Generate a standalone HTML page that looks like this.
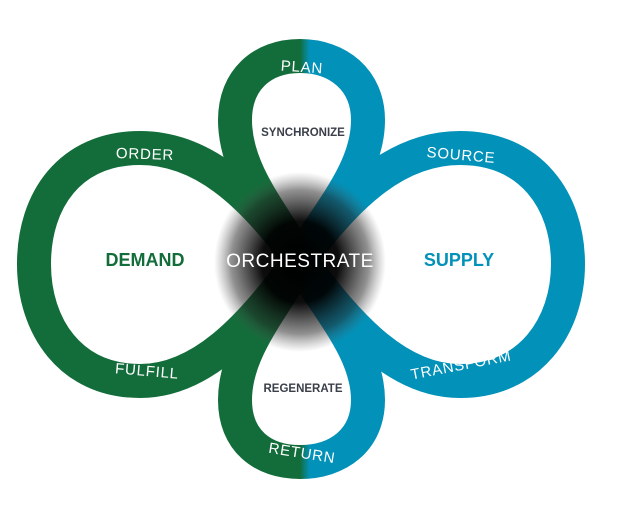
<!DOCTYPE html>
<html><head><style>body{margin:0;background:#fff}svg{display:block}</style></head><body>
<svg width="625" height="514" viewBox="0 0 625 514" xmlns="http://www.w3.org/2000/svg">
<defs>
<linearGradient id="gb" x1="0" y1="0" x2="625" y2="0" gradientUnits="userSpaceOnUse">
<stop offset="0.48" stop-color="#136d3a"/><stop offset="0.495" stop-color="#0291b8"/></linearGradient>
<radialGradient id="rg" cx="0.5" cy="0.5" r="0.5">
<stop offset="0" stop-color="#000" stop-opacity="1"/><stop offset="0.45" stop-color="#000" stop-opacity="0.95"/>
<stop offset="0.8" stop-color="#222" stop-opacity="0.5"/><stop offset="1" stop-color="#555" stop-opacity="0"/></radialGradient>
</defs>
<g fill="none" stroke-width="34">
<path stroke="#136d3a" d="M300,260 C250,190 200,148 140,148 C70,148 34,200 34,264 C34,326 70,381 140,381 C200,381 250,330 300,260"/>
<path stroke="#0291b8" d="M300,260 C350,190 400,148 460,148 C530,148 568,200 568,264 C568,326 530,381 460,381 C400,381 350,330 300,260"/>
<path stroke="url(#gb)" d="M300,260 C270,210 235,170 235,120 C235,80 262,56 300,56 C338,56 368,80 368,120 C368,170 330,210 300,260"/>
<path stroke="url(#gb)" d="M300,262 C270,312 235,352 235,400 C235,440 262,462 300,462 C338,462 368,440 368,400 C368,352 330,312 300,262"/>
</g>
<ellipse cx="300" cy="262" rx="86" ry="90" fill="url(#rg)"/>
<g font-family="Liberation Sans, sans-serif" text-anchor="middle">
<text x="300" y="267" font-size="19" fill="#fff" letter-spacing="0.5">ORCHESTRATE</text>
<text x="145" y="266" font-size="18" font-weight="bold" fill="#136d3a">DEMAND</text>
<text x="459" y="266" font-size="18" font-weight="bold" fill="#0291b8">SUPPLY</text>
<text x="303" y="136" font-size="11.5" font-weight="bold" fill="#3a3f4a">SYNCHRONIZE</text>
<text x="303" y="392" font-size="11.5" font-weight="bold" fill="#3a3f4a">REGENERATE</text>
<g font-size="15" fill="#fff" letter-spacing="0.8">
<text x="302" y="72" transform="rotate(4 302 67)">PLAN</text>
<text x="145" y="159" transform="rotate(2 145 154)">ORDER</text>
<text x="461" y="160" transform="rotate(5 461 155)">SOURCE</text>
<text x="147" y="376" transform="rotate(5 147 371)">FULFILL</text>
<text x="461" y="370" transform="rotate(-11 461 365)">TRANSFORM</text>
<text x="302" y="458" transform="rotate(9 302 453)">RETURN</text>
</g></g>
</svg>
</body></html>
